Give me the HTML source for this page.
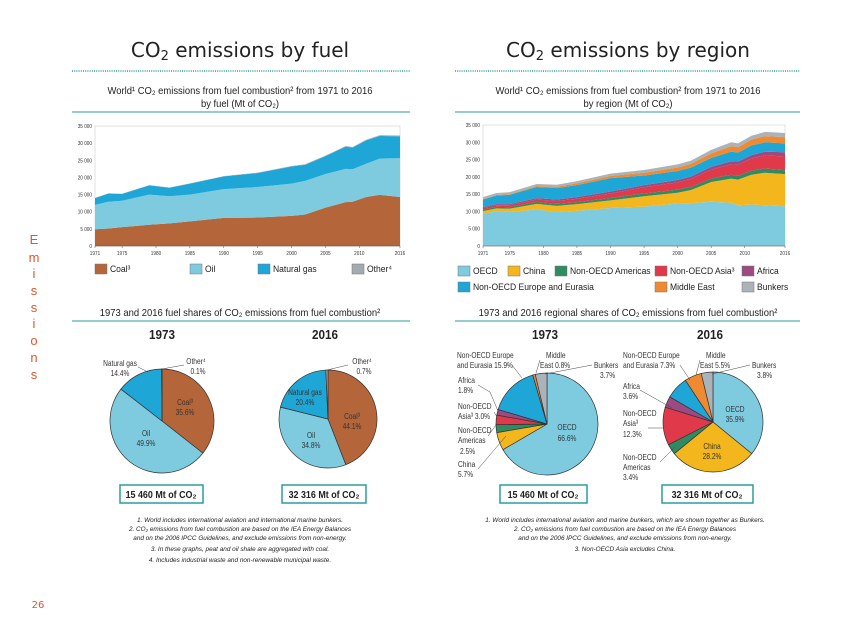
<!DOCTYPE html>
<html><head><meta charset="utf-8">
<style>
html,body{margin:0;padding:0;background:#fff;}
body{width:866px;height:630px;overflow:hidden;font-family:"Liberation Sans",sans-serif;}
svg text{font-family:"Liberation Sans",sans-serif;}
.t{font-family:"DejaVu Sans","Liberation Sans",sans-serif !important;}
</style></head>
<body>
<svg id="page" width="866" height="630" viewBox="0 0 866 630" xmlns="http://www.w3.org/2000/svg">
<rect x="0" y="0" width="866" height="630" fill="#fff"/>
<g id="static" fill="#222">
 <text class="t" x="240" y="57" font-size="20" text-anchor="middle" fill="#222">CO<tspan font-size="13" dy="3">2</tspan><tspan dy="-3"> emissions by fuel</tspan></text>
 <text class="t" x="628" y="57" font-size="20" text-anchor="middle" fill="#222">CO<tspan font-size="13" dy="3">2</tspan><tspan dy="-3"> emissions by region</tspan></text>
 <line x1="72" y1="71" x2="410" y2="71" stroke="#2a9d9a" stroke-width="1.5" stroke-dasharray="1,1.2"/>
 <line x1="455" y1="71" x2="800" y2="71" stroke="#2a9d9a" stroke-width="1.5" stroke-dasharray="1,1.2"/>
 <text transform="translate(240,94) scale(0.9,1)" font-size="10.5" text-anchor="middle">World¹ CO₂ emissions from fuel combustion² from 1971 to 2016</text>
 <text transform="translate(240,107) scale(0.9,1)" font-size="10.5" text-anchor="middle">by fuel (Mt of CO₂)</text>
 <text transform="translate(628,94) scale(0.9,1)" font-size="10.5" text-anchor="middle">World¹ CO₂ emissions from fuel combustion² from 1971 to 2016</text>
 <text transform="translate(628,107) scale(0.9,1)" font-size="10.5" text-anchor="middle">by region (Mt of CO₂)</text>
 <line x1="72" y1="112" x2="410" y2="112" stroke="#2a9d9a" stroke-width="1"/>
 <line x1="455" y1="112" x2="800" y2="112" stroke="#2a9d9a" stroke-width="1"/>

 <text transform="translate(240,316) scale(0.9,1)" font-size="10.5" text-anchor="middle">1973 and 2016 fuel shares of CO₂ emissions from fuel combustion²</text>
 <text transform="translate(628,316) scale(0.9,1)" font-size="10.5" text-anchor="middle">1973 and 2016 regional shares of CO₂ emissions from fuel combustion²</text>
 <line x1="72" y1="321" x2="410" y2="321" stroke="#2a9d9a" stroke-width="1"/>
 <line x1="455" y1="321" x2="800" y2="321" stroke="#2a9d9a" stroke-width="1"/>
 <text transform="translate(162,339) scale(0.9,1)" font-size="13" font-weight="bold" text-anchor="middle">1973</text>
 <text transform="translate(325,339) scale(0.9,1)" font-size="13" font-weight="bold" text-anchor="middle">2016</text>
 <text transform="translate(545,339) scale(0.9,1)" font-size="13" font-weight="bold" text-anchor="middle">1973</text>
 <text transform="translate(710,339) scale(0.9,1)" font-size="13" font-weight="bold" text-anchor="middle">2016</text>

 <g><rect x="120" y="485" width="83" height="18" fill="#fff" stroke="#2a9d9a" stroke-width="1.5"/><text transform="translate(161,498) scale(0.85,1)" font-size="10.5" font-weight="bold" text-anchor="middle">15 460 Mt of CO₂</text></g>
 <g><rect x="282" y="485" width="84" height="18" fill="#fff" stroke="#2a9d9a" stroke-width="1.5"/><text transform="translate(324,498) scale(0.85,1)" font-size="10.5" font-weight="bold" text-anchor="middle">32 316 Mt of CO₂</text></g>
 <g><rect x="500" y="485" width="87" height="18" fill="#fff" stroke="#2a9d9a" stroke-width="1.5"/><text transform="translate(543,498) scale(0.85,1)" font-size="10.5" font-weight="bold" text-anchor="middle">15 460 Mt of CO₂</text></g>
 <g><rect x="662" y="485" width="91" height="18" fill="#fff" stroke="#2a9d9a" stroke-width="1.5"/><text transform="translate(707,498) scale(0.85,1)" font-size="10.5" font-weight="bold" text-anchor="middle">32 316 Mt of CO₂</text></g>

 <g font-size="6.4" font-style="italic" text-anchor="middle">
  <text x="240" y="522">1. World includes international aviation and international marine bunkers.</text>
  <text x="240" y="531">2. CO₂ emissions from fuel combustion are based on the IEA Energy Balances</text>
  <text x="240" y="540">and on the 2006 IPCC Guidelines, and exclude emissions from non-energy.</text>
  <text x="240" y="551">3. In these graphs, peat and oil shale are aggregated with coal.</text>
  <text x="240" y="562">4. Includes industrial waste and non-renewable municipal waste.</text>
 </g>
 <g font-size="6.4" font-style="italic" text-anchor="middle">
  <text x="625" y="522">1. World includes international aviation and marine bunkers, which are shown together as Bunkers.</text>
  <text x="625" y="531">2. CO₂ emissions from fuel combustion are based on the IEA Energy Balances</text>
  <text x="625" y="540">and on the 2006 IPCC Guidelines, and exclude emissions from non-energy.</text>
  <text x="625" y="551">3. Non-OECD Asia excludes China.</text>
 </g>
 <g class="t" font-size="13" fill="#e0572e" text-anchor="middle">
  <text x="34" y="244">E</text><text x="34" y="262">m</text><text x="34" y="278">i</text><text x="34" y="295">s</text><text x="34" y="312">s</text><text x="34" y="328">i</text><text x="34" y="345">o</text><text x="34" y="362">n</text><text x="34" y="379">s</text>
 </g>
 <text x="38" y="608" font-size="10" fill="#e0572e" text-anchor="middle" class="t">26</text>
</g>
<g id="charts"></g>
</svg>
<script>
// ---- data ----
const years = [1971,1973,1975,1979,1982,1985,1990,1995,2000,2002,2005,2008,2009,2011,2013,2016];
const fuelNames = ["Coal","Oil","Natural gas","Other"];
const coal  = [4.9,5.1,5.5,6.2,6.6,7.2,8.2,8.3,8.8,9.2,11.2,12.8,12.9,14.3,14.9,14.3];
const oil   = [7.1,7.8,7.7,8.8,7.9,7.8,8.4,8.9,9.4,9.8,9.8,9.7,9.5,9.7,10.6,11.3];
const gas   = [2.0,2.4,2.0,2.7,2.5,3.2,3.7,4.1,5.0,4.7,5.2,6.5,6.3,6.8,6.6,6.4];
const other = [0.05,0.05,0.05,0.05,0.06,0.07,0.08,0.1,0.12,0.13,0.15,0.17,0.18,0.2,0.22,0.23];
const oecd     = [9.3,10.1,9.8,10.6,9.8,10.2,11.0,11.4,12.3,12.4,12.8,12.5,11.8,12.0,11.8,11.5];
const china    = [0.8,0.8,1.0,1.6,1.8,1.9,2.2,3.0,3.1,3.8,5.7,7.0,7.4,8.6,9.4,9.3];
const americas = [0.4,0.4,0.45,0.55,0.6,0.6,0.7,0.8,0.9,0.9,1.0,1.1,1.1,1.2,1.2,1.1];
const asia     = [0.45,0.5,0.55,0.7,0.8,0.95,1.3,1.8,2.1,2.3,2.6,3.0,3.2,3.5,3.8,4.0];
const africa   = [0.28,0.3,0.32,0.4,0.45,0.5,0.55,0.6,0.7,0.7,0.8,0.9,0.9,1.0,1.1,1.2];
const eurasia  = [2.2,2.5,2.7,3.2,3.3,3.5,3.9,2.8,2.6,2.6,2.6,2.8,2.6,2.8,2.7,2.6];
const mideast  = [0.15,0.15,0.2,0.3,0.4,0.5,0.6,0.8,1.0,1.1,1.3,1.6,1.6,1.7,1.8,1.8];
const bunkers  = [0.55,0.57,0.55,0.6,0.55,0.6,0.7,0.8,0.9,0.9,1.0,1.1,1.1,1.1,1.2,1.2];
const yTicks = [0,5000,10000,15000,20000,25000,30000,35000];
const yTickLabels = ["0","5 000","10 000","15 000","20 000","25 000","30 000","35 000"];
const xTicks = [1971,1975,1980,1985,1990,1995,2000,2005,2010,2016];
const fuelShares1973 = [35.6,49.9,14.4,0.1];
const fuelShares2016 = [44.1,34.8,20.4,0.7];
const regionNames = ["OECD","China","Non-OECD Americas","Non-OECD Asia","Africa","Non-OECD Europe and Eurasia","Middle East","Bunkers"];
const regionShares1973 = [66.6,5.7,2.5,3.0,1.8,15.9,0.8,3.7];
const regionShares2016 = [35.9,28.2,3.4,12.3,3.6,7.3,5.5,3.8];

const NS="http://www.w3.org/2000/svg";
const root=document.getElementById('charts');
function mk(tag,attrs,parent){const e=document.createElementNS(NS,tag);for(const k in attrs)e.setAttribute(k,attrs[k]);(parent||root).appendChild(e);return e;}

function areaChart(name,x0,x1,y0,y1,series,colors,snames){
  const g=mk('g',{});
  
  
  const X=v=>x0+(v-1971)/(2016-1971)*(x1-x0);
  const Y=v=>y0-v/35000*(y0-y1);
  mk('rect',{x:x0,y:y1,width:x1-x0,height:y0-y1,fill:'#fff',stroke:'#ccc','stroke-width':0.6},g);
  let base=years.map(()=>0);
  series.forEach((s,i)=>{
    const top=base.map((b,j)=>b+s[j]*1000);
    let d='M'+years.map((yr,j)=>X(yr)+','+Y(top[j])).join('L');
    for(let j=years.length-1;j>=0;j--) d+='L'+X(years[j])+','+Y(base[j]);
    const p=mk('path',{d:d+'Z',fill:colors[i]},g);
    
    
    base=top;
  });
  const ax=mk('g',{},g);
  
  
  yTicks.forEach((t,i)=>{
    const tx=mk('text',{transform:`translate(${x0-3},${Y(t)+2}) scale(0.85,1)`,'font-size':5.5,'text-anchor':'end',fill:'#333'},ax);
    tx.textContent=yTickLabels[i];
  });
  const xa=mk('g',{},g);
  
  
  mk('line',{x1:x0,y1:y0,x2:x1,y2:y0,stroke:'#555','stroke-width':0.6},xa);
  xTicks.forEach(t=>{
    mk('line',{x1:X(t),y1:y0,x2:X(t),y2:y0+2,stroke:'#555','stroke-width':0.5},xa);
    const tx=mk('text',{transform:`translate(${X(t)},${y0+9}) scale(0.85,1)`,'font-size':5.5,'text-anchor':'middle',fill:'#333'},xa);
    tx.textContent=t;
  });
}
const fuelColors=['#b5653a','#7ecbe0','#1ea7d6','#a3aab2'];
const regionColors=['#7ecbe0','#f3b61c','#2e8b62','#e0394a','#9b4a82','#1ea7d6','#f08a30','#aab2ba'];
areaChart('fuel-area-chart',95,400,246,126,[coal,oil,gas,other],fuelColors,fuelNames);
areaChart('region-area-chart',483,785,246,125,[oecd,china,americas,asia,africa,eurasia,mideast,bunkers],regionColors,regionNames);

function legend(items){
  items.forEach(it=>{
    const g=mk('g',{});
    
    
    mk('rect',{x:it.x,y:it.y-8,width:12,height:10,fill:it.c,stroke:'#777','stroke-width':0.5},g);
    const t=mk('text',{transform:`translate(${it.x+15},${it.y}) scale(0.9,1)`,'font-size':9.5,fill:'#222'},g);
    t.textContent=it.n+(it.s||'');
  });
}
legend([{x:95,y:272,n:'Coal',s:'³',c:fuelColors[0]},{x:190,y:272,n:'Oil',c:fuelColors[1]},{x:258,y:272,n:'Natural gas',c:fuelColors[2]},{x:352,y:272,n:'Other',s:'⁴',c:fuelColors[3]}]);
legend([{x:458,y:274,n:'OECD',c:regionColors[0]},{x:508,y:274,n:'China',c:regionColors[1]},{x:555,y:274,n:'Non-OECD Americas',c:regionColors[2]},{x:655,y:274,n:'Non-OECD Asia',s:'³',c:regionColors[3]},{x:742,y:274,n:'Africa',c:regionColors[4]},
        {x:458,y:290,n:'Non-OECD Europe and Eurasia',c:regionColors[5]},{x:655,y:290,n:'Middle East',c:regionColors[6]},{x:742,y:290,n:'Bunkers',c:regionColors[7]}]);

function pie(name,cx,cy,r,shares,colors,names){
  const g=mk('g',{});
  
  
  const tot=shares.reduce((a,b)=>a+b,0);
  let a=-Math.PI/2;
  shares.forEach((s,i)=>{
    const a2=a+s/tot*2*Math.PI;
    const large=(a2-a)>Math.PI?1:0;
    const d=`M${cx},${cy}L${cx+r*Math.cos(a)},${cy+r*Math.sin(a)}A${r},${r} 0 ${large} 1 ${cx+r*Math.cos(a2)},${cy+r*Math.sin(a2)}Z`;
    const p=mk('path',{d:d,fill:colors[i],stroke:'#333','stroke-width':0.7},g);
    
    
    a=a2;
  });
}
pie('pie-fuel-1973',162,421,52,fuelShares1973,fuelColors,fuelNames);
pie('pie-fuel-2016',328,419,49,fuelShares2016,fuelColors,fuelNames);
pie('pie-region-1973',547,424,51,regionShares1973,regionColors,regionNames);
pie('pie-region-2016',713,422,50,regionShares2016,regionColors,regionNames);

function labels(list){
  const g=mk('g',{});
  
  
  list.forEach(l=>{const t=mk('text',{transform:`translate(${l[0]},${l[1]}) scale(0.78,1)`,'font-size':8.5,fill:'#333','text-anchor':l[3]||'start'},g);t.textContent=l[2];});
}
labels([[120,366,'Natural gas','middle'],[120,376,'14.4%','middle'],[196,364,'Other⁴','middle'],[198,374,'0.1%','middle'],
 [185,405,'Coal³','middle'],[185,415,'35.6%','middle'],[146,436,'Oil','middle'],[146,446,'49.9%','middle'],
 [362,364,'Other⁴','middle'],[364,374,'0.7%','middle'],[305,395,'Natural gas','middle'],[305,405,'20.4%','middle'],
 [352,419,'Coal³','middle'],[352,429,'44.1%','middle'],[311,438,'Oil','middle'],[311,448,'34.8%','middle'],
 [457,358,'Non-OECD Europe'],[457,368,'and Eurasia 15.9%'],[546,358,'Middle'],[540,368,'East 0.8%'],[594,368,'Bunkers'],[600,378,'3.7%'],
 [458,383,'Africa'],[458,393,'1.8%'],[458,409,'Non-OECD'],[458,419,'Asia³ 3.0%'],[458,433,'Non-OECD'],[458,443,'Americas'],[460,454,'2.5%'],[458,467,'China'],[458,477,'5.7%'],
 [567,430,'OECD','middle'],[567,441,'66.6%','middle'],
 [623,358,'Non-OECD Europe'],[623,368,'and Eurasia 7.3%'],[706,358,'Middle'],[700,368,'East 5.5%'],[752,368,'Bunkers'],[757,378,'3.8%'],
 [623,389,'Africa'],[623,399,'3.6%'],[623,416,'Non-OECD'],[623,426,'Asia³'],[623,437,'12.3%'],[623,460,'Non-OECD'],[623,470,'Americas'],[623,480,'3.4%'],
 [735,412,'OECD','middle'],[735,422,'35.9%','middle'],[712,449,'China','middle'],[712,459,'28.2%','middle']]);

// leader lines
const ll=mk('g',{stroke:'#444','stroke-width':0.5,fill:'none'});


[['M138,367 L148,372'],['M184,365 L162,369'],['M348,365 L327,370'],
 ['M512,365 L522,378'],['M540,360 L536,373'],['M592,365 L545,374'],
 ['M478,385 L490,392 L498,411'],['M494,412 L497,417'],['M488,436 L496,425'],['M478,469 L506,436'],
 ['M680,365 L690,380'],['M700,360 L696,375'],['M750,365 L712,374'],
 ['M640,390 L672,408'],['M648,428 L663,428'],['M660,462 L675,447']].forEach(p=>mk('path',{d:p[0]},ll));
</script>
</body></html>
